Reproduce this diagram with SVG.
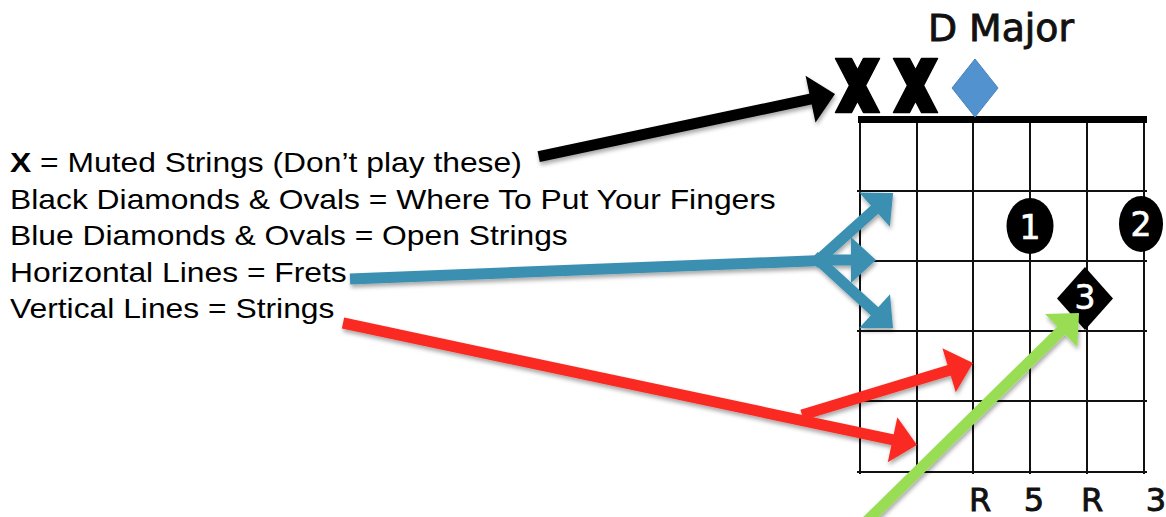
<svg xmlns="http://www.w3.org/2000/svg" width="1166" height="517" viewBox="0 0 1166 517">
  <style>
    .lbl { font-family: "Liberation Sans", Arial, Helvetica, sans-serif; font-size: 27px; fill: #000; }
    .grid line { stroke: #111; stroke-width: 2; }
    .hum { font-family: "DejaVu Sans", Verdana, sans-serif; fill: #111; stroke: #111; stroke-width: 0.9; }
    .digit { font-family: "DejaVu Sans", Verdana, sans-serif; font-size: 33px; fill: #fff; stroke: #fff; stroke-width: 0.7; text-anchor: middle; }
    .shaft { fill: none; stroke-width: 11; stroke-linecap: butt; }
  </style>
  <defs>
    <filter id="shadow" x="-10%" y="-10%" width="120%" height="130%">
      <feDropShadow dx="1" dy="3" stdDeviation="2" flood-color="#000" flood-opacity="0.35"/>
    </filter>
    <marker id="head-black" markerUnits="userSpaceOnUse" markerWidth="28" markerHeight="48" refX="2" refY="24" orient="auto" overflow="visible">
      <path d="M0,0 L25,24 L0,48 Z" fill="#000"/>
    </marker>
    <marker id="head-blue" markerUnits="userSpaceOnUse" markerWidth="28" markerHeight="46" refX="2" refY="23" orient="auto" overflow="visible">
      <path d="M0,0 L25,23 L0,46 Z" fill="#3a90b2"/>
    </marker>
    <marker id="head-red" markerUnits="userSpaceOnUse" markerWidth="28" markerHeight="46" refX="2" refY="23" orient="auto" overflow="visible">
      <path d="M0,0 L25,23 L0,46 Z" fill="#fa2b22"/>
    </marker>
    <marker id="head-green" markerUnits="userSpaceOnUse" markerWidth="28" markerHeight="46" refX="2" refY="23" orient="auto" overflow="visible">
      <path d="M0,0 L25,23 L0,46 Z" fill="#99dd55"/>
    </marker>
    <polygon id="xmark" points="-22,-27 -6,-27 0,-15.4 6,-27 22,-27 8,0 22,27 6,27 0,15.4 -6,27 -22,27 -8,0" fill="#000" stroke="#000" stroke-width="1.5" stroke-linejoin="round"/>
  </defs>

  <rect width="1166" height="517" fill="#fff"/>

  <g id="legend">
    <g transform="scale(1.178 1)">
      <text class="lbl" x="8.5" y="172"><tspan font-weight="bold">X</tspan> = Muted Strings (Don’t play these)</text>
      <text class="lbl" x="8.5" y="208.6">Black Diamonds &amp; Ovals = Where To Put Your Fingers</text>
      <text class="lbl" x="8.5" y="245.3">Blue Diamonds &amp; Ovals = Open Strings</text>
      <text class="lbl" x="8.5" y="282">Horizontal Lines = Frets</text>
      <text class="lbl" x="8.5" y="318.5">Vertical Lines = Strings</text>
    </g>
  </g>

  <g id="title">
    <text class="hum" x="928" y="41" font-size="37" textLength="146" lengthAdjust="spacingAndGlyphs">D Major</text>
  </g>

  <g id="fretboard" class="grid">
    <line x1="860" y1="119" x2="860" y2="474"/>
    <line x1="917" y1="119" x2="917" y2="474"/>
    <line x1="973" y1="119" x2="973" y2="474"/>
    <line x1="1030" y1="119" x2="1030" y2="474"/>
    <line x1="1087" y1="119" x2="1087" y2="474"/>
    <line x1="1144" y1="119" x2="1144" y2="474"/>
    <line x1="857" y1="191" x2="1147" y2="191"/>
    <line x1="857" y1="261" x2="1147" y2="261"/>
    <line x1="857" y1="331" x2="1147" y2="331"/>
    <line x1="857" y1="401" x2="1147" y2="401"/>
    <line x1="857" y1="472" x2="1147" y2="472"/>
    <rect x="858" y="116" width="289" height="7" fill="#000"/>
  </g>

  <g id="mute-1"><use href="#xmark" x="857.5" y="85.5"/></g>
  <g id="mute-2"><use href="#xmark" x="915.5" y="85.5"/></g>
  <g id="open-d">
    <polygon points="975,59 998,88 975,117 952,88" fill="#5292cf" stroke="#4a84bc" stroke-width="1"/>
  </g>

  <g id="finger-1">
    <ellipse cx="1030" cy="226" rx="23.5" ry="28" fill="#000"/>
    <text class="digit" x="1030" y="239">1</text>
  </g>
  <g id="finger-2">
    <ellipse cx="1141" cy="224" rx="22" ry="28" fill="#000"/>
    <text class="digit" x="1141" y="236">2</text>
  </g>
  <g id="finger-3">
    <polygon points="1085,267 1113,298.5 1085,330 1057,298.5" fill="#000"/>
    <text class="digit" x="1085" y="309">3</text>
  </g>

  <g id="intervals" class="hum" font-size="32" text-anchor="middle">
    <text x="980" y="511">R</text>
    <text x="1034" y="511">5</text>
    <text x="1092" y="511">R</text>
    <text x="1156" y="511">3</text>
  </g>

  <g id="connectors" filter="url(#shadow)">
    <line class="shaft" stroke="#000" x1="538.7" y1="156.7" x2="812.5" y2="98.7" marker-end="url(#head-black)"/>

    <line class="shaft" stroke="#3a90b2" x1="350" y1="279" x2="822" y2="260.5"/>
    <line class="shaft" stroke="#3a90b2" x1="814" y1="264" x2="876" y2="208.3" marker-end="url(#head-blue)"/>
    <line class="shaft" stroke="#3a90b2" x1="816" y1="260" x2="853" y2="260" marker-end="url(#head-blue)"/>
    <line class="shaft" stroke="#3a90b2" x1="814" y1="256" x2="876" y2="312.6" marker-end="url(#head-blue)"/>

    <line class="shaft" stroke="#fa2b22" x1="343" y1="323" x2="894.5" y2="440.2" marker-end="url(#head-red)"/>
    <line class="shaft" stroke="#fa2b22" x1="802" y1="415" x2="951" y2="369.7" marker-end="url(#head-red)"/>

    <line class="shaft" stroke="#99dd55" x1="864" y1="524" x2="1062.6" y2="329.1" marker-end="url(#head-green)"/>
  </g>
</svg>
